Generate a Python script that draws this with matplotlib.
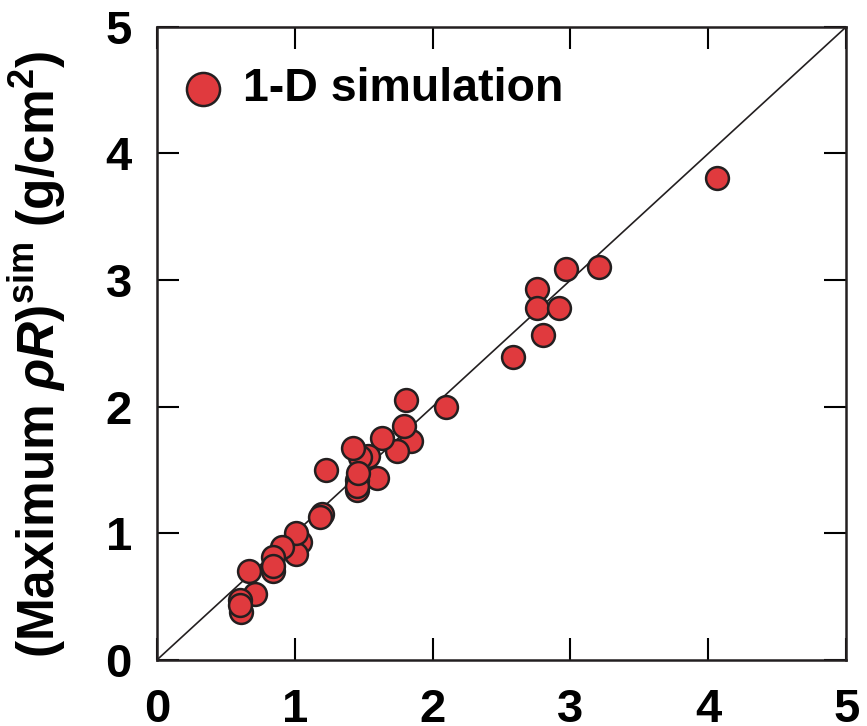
import numpy as np
import matplotlib.pyplot as plt

# measured (x) vs simulated (y) maximum rhoR, g/cm^2
rho_r_exp = [4.06, 3.21, 2.97, 2.76, 2.76, 2.92, 2.80, 2.58, 2.10, 1.81,
             1.84, 1.79, 1.74, 1.63, 1.53, 1.47, 1.60, 1.42, 1.45, 1.45,
             1.45, 1.46, 1.23, 1.20, 1.18, 1.04, 1.01, 1.01, 0.91, 0.84,
             0.84, 0.84, 0.67, 0.71, 0.60, 0.61, 0.60]
rho_r_sim = [3.81, 3.10, 3.09, 2.93, 2.78, 2.78, 2.57, 2.39, 2.00, 2.05,
             1.73, 1.85, 1.65, 1.75, 1.61, 1.60, 1.44, 1.67, 1.42, 1.34,
             1.37, 1.48, 1.50, 1.15, 1.13, 0.93, 0.84, 1.00, 0.89, 0.70,
             0.81, 0.74, 0.70, 0.52, 0.47, 0.38, 0.43]
ticks = [0, 1, 2, 3, 4, 5]

plt.rcParams['font.family'] = ['Liberation Sans', 'DejaVu Sans']
plt.rcParams['font.weight'] = 'bold'
plt.rcParams['mathtext.fontset'] = 'custom'
plt.rcParams['mathtext.rm'] = 'Liberation Sans:bold'
plt.rcParams['mathtext.bf'] = 'Liberation Sans:bold'
plt.rcParams['mathtext.it'] = 'Liberation Sans:italic:bold'

fig = plt.figure(figsize=(8.67, 7.26), dpi=100)
ax = fig.add_axes([0.181, 0.091, 0.795, 0.872])

ax.plot([0, 5], [0, 5], color='#231f20', lw=1.2, zorder=1)
ax.scatter(rho_r_exp, rho_r_sim, s=270, color='#e03a3e', edgecolors='#231f20',
           linewidths=1.8, zorder=2, label='1-D simulation')

ax.set_xlim(0, 5)
ax.set_ylim(0, 5)
ax.set_xticks(ticks)
ax.set_yticks(ticks)
ax.tick_params(direction='in', length=16, width=1.5, labelsize=34, pad=18,
               top=True, right=True)
ax.tick_params(axis='x', pad=20)
for s in ax.spines.values():
    s.set_linewidth(1.8)
    s.set_color('#231f20')

ax.set_ylabel(r'(Maximum $\rho R$)$^{\mathrm{sim}}$ (g/cm$^{\mathrm{2}}$)',
              fontsize=37, fontweight='bold')
ax.yaxis.set_label_coords(-0.129, 0.482)

ax.legend(loc='center left', bbox_to_anchor=(180 / 867, 1 - 89 / 726),
          bbox_transform=fig.transFigure, frameon=False, handlelength=1.0,
          handletextpad=0.35, borderpad=0, borderaxespad=0, markerscale=1.45,
          prop={'weight': 'bold', 'size': 33.5})

fig.savefig('out.png', dpi=100)
